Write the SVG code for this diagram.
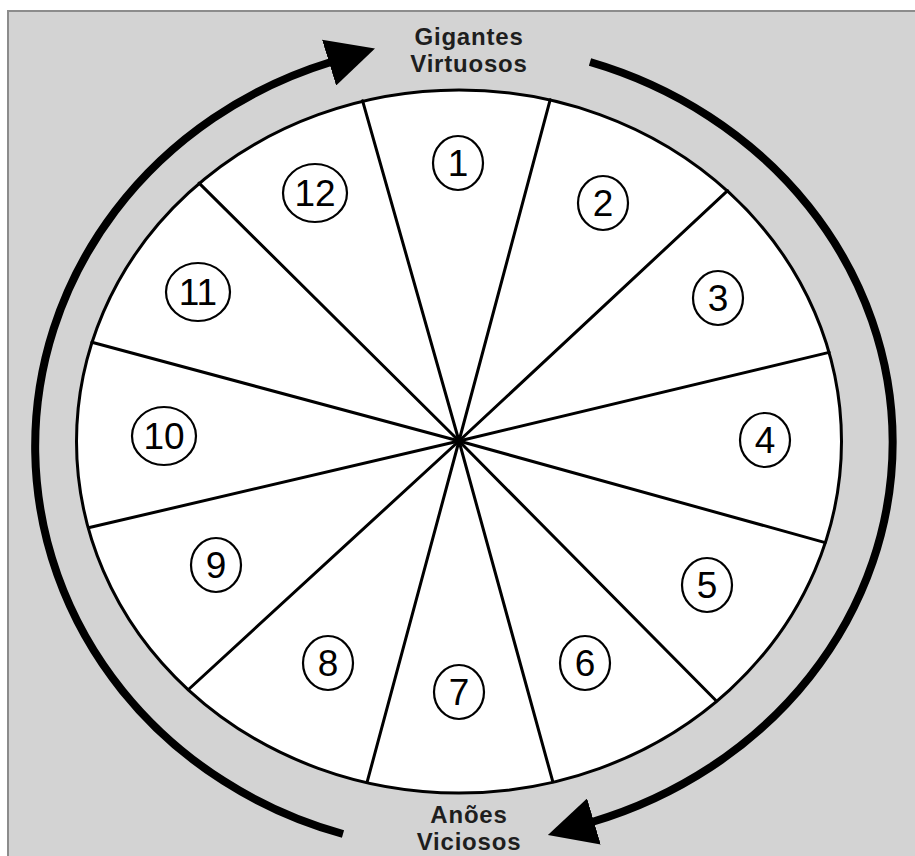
<svg xmlns="http://www.w3.org/2000/svg" width="915" height="856" viewBox="0 0 915 856">
<defs>
<style>
.bg{fill:#d3d3d3;stroke:#8c8c8c;stroke-width:2}
.wheel{fill:#fff;stroke:#000;stroke-width:3}
.spoke{stroke:#000;stroke-width:3;stroke-linecap:round}
.num ellipse{fill:#fff;stroke:#000;stroke-width:2.2}
.num text{font-family:"Liberation Sans",Arial,sans-serif;font-size:37px;fill:#000;text-anchor:middle}
.arc{fill:none;stroke:#000;stroke-width:8}
.lbl{font-family:"Liberation Sans",Arial,sans-serif;font-weight:bold;font-size:24px;letter-spacing:0.8px;fill:#1e1e1e;text-anchor:middle}
</style>
<marker id="ah" markerUnits="userSpaceOnUse" viewBox="0 0 48 48" markerWidth="48" markerHeight="48" refX="2" refY="24" orient="auto">
<path d="M0,0 L48,24 L0,48 z" fill="#000"/>
</marker>
</defs>
<rect class="bg" x="8" y="11" width="920" height="860"/>
<g id="wheel">
<ellipse class="wheel" cx="459" cy="441.5" rx="382.5" ry="351.5"/>
<g id="spokes">
<line class="spoke" x1="459" y1="441" x2="362.6" y2="100.8"/>
<line class="spoke" x1="459" y1="441" x2="550.2" y2="99.7"/>
<line class="spoke" x1="459" y1="441" x2="727.6" y2="190.7"/>
<line class="spoke" x1="459" y1="441" x2="829.1" y2="352.4"/>
<line class="spoke" x1="459" y1="441" x2="825.2" y2="542.6"/>
<line class="spoke" x1="459" y1="441" x2="716.4" y2="701"/>
<line class="spoke" x1="459" y1="441" x2="552.8" y2="781.7"/>
<line class="spoke" x1="459" y1="441" x2="367.1" y2="782.2"/>
<line class="spoke" x1="459" y1="441" x2="188.5" y2="689.5"/>
<line class="spoke" x1="459" y1="441" x2="88.4" y2="527.8"/>
<line class="spoke" x1="459" y1="441" x2="91.9" y2="342.3"/>
<line class="spoke" x1="459" y1="441" x2="199.1" y2="183.1"/>
</g>
</g>
<g id="n1" class="num"><ellipse cx="458" cy="163" rx="25" ry="27"/><text x="458" y="176">1</text></g>
<g id="n2" class="num"><ellipse cx="603" cy="203" rx="25" ry="27"/><text x="603" y="216">2</text></g>
<g id="n3" class="num"><ellipse cx="718" cy="298" rx="25" ry="27"/><text x="718" y="311">3</text></g>
<g id="n4" class="num"><ellipse cx="765" cy="440" rx="25" ry="27"/><text x="765" y="453">4</text></g>
<g id="n5" class="num"><ellipse cx="707" cy="585" rx="25" ry="27"/><text x="707" y="598">5</text></g>
<g id="n6" class="num"><ellipse cx="585" cy="663" rx="25" ry="27"/><text x="585" y="676">6</text></g>
<g id="n7" class="num"><ellipse cx="459" cy="692" rx="25" ry="27"/><text x="459" y="705">7</text></g>
<g id="n8" class="num"><ellipse cx="328" cy="663" rx="25" ry="27"/><text x="328" y="676">8</text></g>
<g id="n9" class="num"><ellipse cx="216" cy="565" rx="25" ry="27"/><text x="216" y="578">9</text></g>
<g id="n10" class="num"><ellipse cx="164" cy="436" rx="32" ry="29"/><text x="164" y="449">10</text></g>
<g id="n11" class="num"><ellipse cx="198" cy="292" rx="32" ry="29"/><text x="198" y="305">11</text></g>
<g id="n12" class="num"><ellipse cx="315" cy="193" rx="32" ry="29"/><text x="315" y="206">12</text></g>
<g id="connectors">
<path class="arc" d="M 343 834 A 428 404 0 0 1 331 62" marker-end="url(#ah)"/>
<path class="arc" d="M 590 62 A 434 399 0 0 1 592 822" marker-end="url(#ah)"/>
</g>
<g id="top-label"><text class="lbl" x="469" y="45">Gigantes</text><text class="lbl" x="469" y="72">Virtuosos</text></g>
<g id="bottom-label"><text class="lbl" x="469" y="823">Anões</text><text class="lbl" x="469" y="850">Viciosos</text></g>
</svg>
